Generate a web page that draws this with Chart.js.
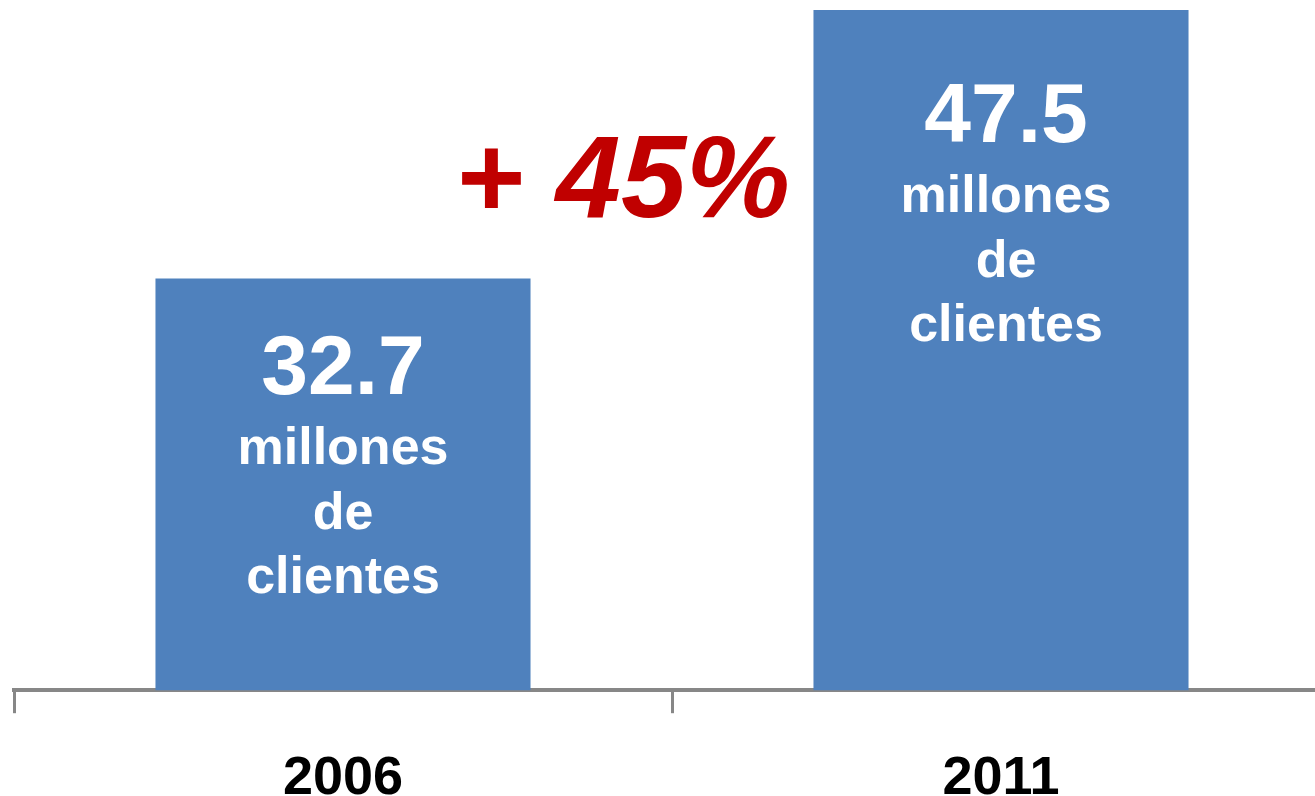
<!DOCTYPE html>
<html>
<head>
<meta charset="utf-8">
<script src="https://cdn.jsdelivr.net/npm/chart.js@4.4.1/dist/chart.umd.min.js"></script>
<style>
  html, body { margin: 0; padding: 0; background: #fff; overflow: hidden; }
  #wrap { width: 1330px; height: 850px; }
</style>
</head>
<body>
<div id="wrap"><canvas id="clientsChart" width="1330" height="850"></canvas></div>
<script>
// Chart data
const years = ['2006', '2011'];
const clients = [32.7, 47.5];
const unitLines = ['millones', 'de', 'clientes'];
const growthLabel = '+ 45%';

const BAR_BLUE = '#4F81BD';
const AXIS_GRAY = '#878787';

// Writes the value and the unit lines inside each bar
const barTextPlugin = {
    id: 'barText',
    afterDatasetsDraw(chart, args, opts) {
        const ctx = chart.ctx;
        const bars = chart.getDatasetMeta(0).data;
        ctx.save();
        ctx.fillStyle = '#fff';
        ctx.textAlign = 'center';
        ctx.textBaseline = 'alphabetic';
        bars.forEach((bar, i) => {
            const x = bar.x + opts.dx[i];
            const y = bar.y + opts.firstLine[i];
            ctx.font = 'bold 84px "Liberation Sans", Arial, sans-serif';
            ctx.fillText(clients[i].toFixed(1), x, y);
            ctx.font = 'bold 52px "Liberation Sans", Arial, sans-serif';
            unitLines.forEach((line, j) => {
                ctx.fillText(line, x, y + opts.lineSteps[j]);
            });
        });
        ctx.restore();
    }
};

// The red growth note between the bars
const growthPlugin = {
    id: 'growth',
    afterDraw(chart) {
        const ctx = chart.ctx;
        ctx.save();
        ctx.fillStyle = '#C00000';
        ctx.font = 'italic bold 117px "Liberation Sans", Arial, sans-serif';
        ctx.textAlign = 'left';
        ctx.textBaseline = 'alphabetic';
        ctx.fillText(growthLabel, 455, 217);
        ctx.restore();
    }
};

const ctx = document.getElementById('clientsChart').getContext('2d');
new Chart(ctx, {
    type: 'bar',
    data: {
        labels: years,
        datasets: [{
            data: clients,
            backgroundColor: BAR_BLUE,
            borderWidth: 0,
            barPercentage: 0.57,
            categoryPercentage: 1
        }]
    },
    options: {
        responsive: false,
        animation: false,
        events: [],
        devicePixelRatio: 1,
        layout: { padding: { left: 14, right: 0, top: 10, bottom: 4 } },
        plugins: {
            legend: { display: false },
            tooltip: { enabled: false },
            barText: { dx: [0, 5], firstLine: [116, 132], lineSteps: [70, 135, 199] }
        },
        scales: {
            x: {
                grid: {
                    offset: true,
                    drawOnChartArea: false,
                    drawTicks: true,
                    tickLength: 23,
                    lineWidth: 3,
                    color: AXIS_GRAY
                },
                border: { display: true, color: AXIS_GRAY, width: 4 },
                ticks: {
                    color: '#000',
                    padding: 34,
                    font: { family: '"Liberation Sans Narrow", "Liberation Sans", sans-serif', size: 54, weight: 'bold' }
                }
            },
            y: {
                display: false,
                min: 10,
                max: 47.5
            }
        }
    },
    plugins: [barTextPlugin, growthPlugin]
});
</script>
</body>
</html>
